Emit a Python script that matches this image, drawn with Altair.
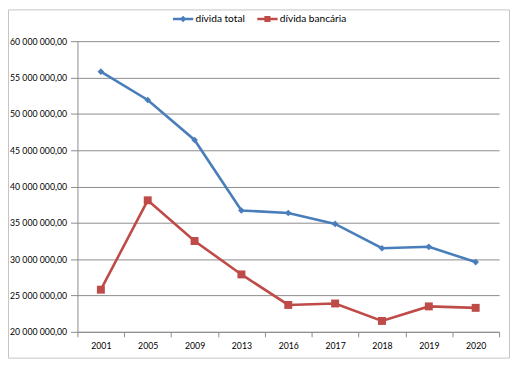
import altair as alt
import pandas as pd

years = ["2001", "2005", "2009", "2013", "2016", "2017", "2018", "2019", "2020"]
divida_total = [55.8e6, 51.9e6, 46.4e6, 36.7e6, 36.35e6, 34.85e6, 31.5e6, 31.7e6, 29.6e6]
divida_bancaria = [25.8e6, 38.1e6, 32.5e6, 27.9e6, 23.7e6, 23.9e6, 21.5e6, 23.5e6, 23.3e6]
series_names = ["dívida total", "dívida bancária"]
y_ticks = [20e6, 25e6, 30e6, 35e6, 40e6, 45e6, 50e6, 55e6, 60e6]
colors = ["#4a7ebb", "#be4b48"]

rows = []
for name, vals in zip(series_names, [divida_total, divida_bancaria]):
    for y, v in zip(years, vals):
        rows.append({"ano": y, "serie": name, "valor": v})
df = pd.DataFrame(rows)

FONT = "Lato"
FS = 8.8
GRID = "#8c8c8c"

x_enc = alt.X(
    "ano:O",
    sort=years,
    scale=alt.Scale(type="band", domain=years, paddingInner=0, paddingOuter=0),
    axis=alt.Axis(
        title=None, labelAngle=0, tickBand="extent", grid=False,
        domainColor=GRID, tickColor=GRID, tickSize=5, labelPadding=5,
        labelFont=FONT, labelFontSize=FS, labelColor="#000000",
    ),
)
y_enc = alt.Y(
    "valor:Q",
    scale=alt.Scale(domain=[20e6, 60e6], nice=False, zero=False),
    axis=alt.Axis(
        title=None, values=y_ticks, format=",.2f", grid=True,
        gridColor=GRID, gridWidth=1, domainColor=GRID, tickColor=GRID,
        tickSize=7, labelPadding=4, labelFont=FONT, labelFontSize=FS,
        labelColor="#000000",
    ),
)

base = alt.Chart(df)
layers = []
shapes = ["diamond", "square"]
sizes = [45, 64]
for name, col, shp, sz in zip(series_names, colors, shapes, sizes):
    sub = base.transform_filter(alt.datum.serie == name)
    layers.append(sub.mark_line(strokeWidth=2.6, color=col).encode(x=x_enc, y=y_enc))
    layers.append(sub.mark_point(filled=True, opacity=1, shape=shp, size=sz, color=col).encode(x=x_enc, y=y_enc))

diamond_path = "M-1,-0.13H1V0.13H-1ZM-0.32,0L0,-0.32L0.32,0L0,0.32Z"
square_path = "M-1,-0.13H1V0.13H-1ZM-0.3,-0.3H0.3V0.3H-0.3Z"

leg_props = dict(
    title=None, orient="none", legendX=96, legendY=-33,
    direction="horizontal", symbolSize=420, symbolOpacity=1,
    symbolStrokeWidth=0, labelFont=FONT, labelFontSize=10.2,
    labelColor="#000000", labelOffset=2, columnPadding=12,
)

legend_layer = base.mark_point(filled=True, size=0, strokeWidth=0).encode(
    x=x_enc, y=y_enc,
    color=alt.Color("serie:N", scale=alt.Scale(domain=series_names, range=colors),
                    legend=alt.Legend(**leg_props)),
    shape=alt.Shape("serie:N", scale=alt.Scale(domain=series_names, range=[diamond_path, square_path]),
                    legend=alt.Legend(**leg_props)),
)

border = alt.Chart(alt.Data(values=[{}])).mark_rect(
    fill=None, stroke="#c4c4c4", strokeWidth=1
).encode(
    x=alt.value(-69.5), x2=alt.value(435.5), y=alt.value(-31.5), y2=alt.value(319.5)
)

chart = alt.layer(border, *layers, legend_layer).properties(
    width=425, height=293,
    autosize=alt.AutoSizeParams(type="none"),
    padding={"left": 70, "top": 32, "right": 12, "bottom": 30},
).configure(
    locale={"number": {"decimal": ",", "thousands": " ", "grouping": [3], "currency": ["", ""]}},
).configure_view(stroke=None)

chart.save("out.html", embed_options={"renderer": "svg", "actions": False})
